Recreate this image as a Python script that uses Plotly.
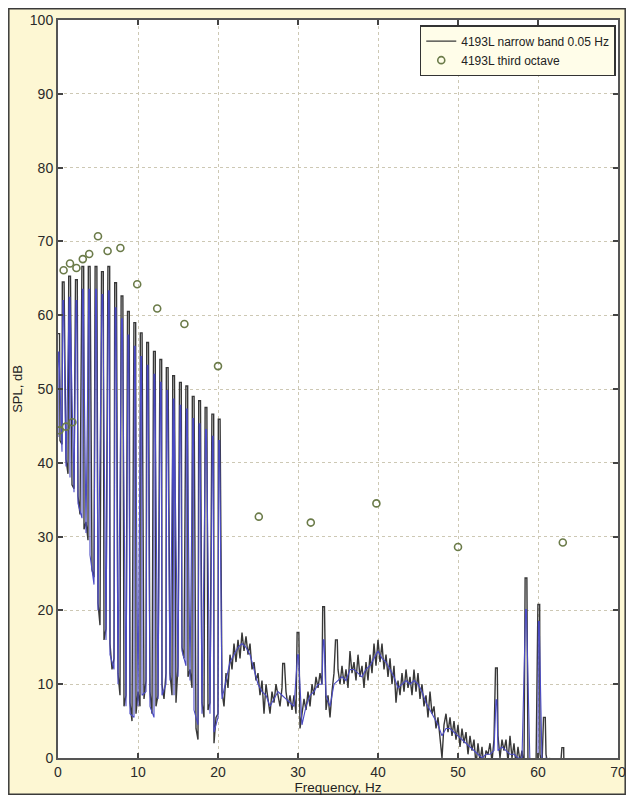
import numpy as np
import plotly.graph_objects as go

# ---------------- data ----------------
# narrow band (black) broadband floor, 0.25 Hz grid from 0 to 64 Hz
nb_step = 0.25
nb_floor = [
    44.5, 43.0, 42.5, 41.0,   40.5, 38.5, 38.0, 37.0,   36.5, 35.0, 35.5, 33.0,
    33.5, 31.0, 32.0, 29.5,   28.5, 25.5, 24.5, 21.5,   21.0, 18.0, 19.5, 16.0,
    17.5, 14.0, 15.5, 12.0,   13.5, 10.5, 11.5, 8.5,    10.0, 7.0, 8.5, 5.5,
    7.5, 5.0, 6.5, 6.0,       9.0, 7.0, 10.5, 8.0,      10.5, 8.0, 9.0, 6.0,
    3.5, 7.0, 8.5, 7.0,       10.0, 8.0, 11.5, 9.0,     11.5, 8.5, 10.0, 7.5,
    12.5, 11.0, 15.0, 13.5,   14.0, 11.0, 12.0, 9.5,    7.0, 4.0, 2.5, 6.0,
    7.5, 5.5, 9.0, 6.5,       7.5, 5.0, 2.0, 5.5,       6.0, 4.5, 9.0, 7.0,
    11.5, 9.5, 14.0, 12.0,    15.5, 13.0, 16.0, 13.5,   17.0, 14.5, 16.5, 14.0,
    15.5, 12.0, 13.0, 10.5,   11.5, 8.5, 10.5, 6.0,     10.0, 8.0, 6.0, 9.0,
    7.5, 10.0, 8.5, 7.0,      9.5, 7.5, 9.0, 7.0,       8.5, 6.5, 8.5, 6.0,
    7.0, 4.0, 6.0, 8.0,       6.5, 9.0, 7.0, 10.0,      8.5, 11.0, 9.5, 11.5,
    10.0, 8.0, 6.5, 8.5,      5.5, 9.0, 11.5, 9.5,      12.0, 10.0, 12.5, 10.0,
    12.0, 9.5, 14.5, 11.5,    13.0, 10.5, 14.0, 11.0,   12.5, 9.5, 13.0, 10.5,
    14.0, 11.5, 15.5, 12.5,   16.0, 13.0, 15.5, 12.0,   14.0, 11.0, 13.5, 10.0,
    12.5, 7.5, 10.5, 8.5,     11.5, 9.0, 12.0, 9.5,     11.0, 8.5, 12.0, 9.0,
    11.5, 8.0, 10.0, 7.0,     8.5, 5.5, 9.0, 6.0,       7.0, 4.0, 5.5, 3.0,
    0.0, 4.5, 6.0, 3.5,       5.5, 3.0, 5.0, 2.5,       4.5, 1.5, 4.0, 2.0,
    3.5, 0.5, 3.0, 1.0,       2.5, -1.0, 2.0, -0.5,     1.5, -1.5, 1.0, 0.5,
    2.0, -0.5, 2.5, 0.5,      3.0, 0.0, 2.5, 1.0,       2.5, -0.5, 3.0, 0.0,
    2.0, -1.0, 1.5, -0.5,     1.0, -1.5, 0.5, -1.0,     0.0, -2.0, -1.0, -1.5,
    -0.5, 0.5, -1.0, 1.0,     0.5, -1.0, 0.0, -2.0,     -1.0, -2.5, -1.5, -2.0,
    -1.5, -2.0, -1.5, -2.5,   -2.5,
]

# narrow band (black) tonal spikes
nb_spike_freq = [0.08, 0.65, 1.45, 2.3, 3.1, 3.9, 4.75, 5.55, 6.35, 7.2, 8.0, 8.8,
                 9.6, 10.4, 11.2, 12.05, 12.85, 13.65, 14.45, 15.3, 16.1, 16.9,
                 17.7, 18.5, 19.35, 20.15, 28.2, 30.0, 33.2, 34.8, 54.8, 58.5,
                 60.1, 60.8, 63.1]
nb_spike_level = [57.5, 64.5, 65.3, 64.8, 66.6, 66.6, 66.6, 65.9, 66.6, 64.4, 62.6, 60.5,
                  59.0, 57.6, 56.3, 55.1, 54.0, 52.9, 51.8, 50.9, 50.4, 49.0,
                  48.4, 47.5, 46.6, 45.9, 12.8, 17.0, 20.5, 16.0, 12.2, 24.4,
                  20.8, 5.5, 1.4]

# second (blue) narrow band trace, 0.5 Hz grid from 0 to 64 Hz
bl_step = 0.5
bl_floor = [
    43.5, 41.5, 39.5, 38.0, 36.0, 34.5, 32.5, 30.5, 27.5, 23.5,
    20.0, 18.0, 16.0, 14.0, 12.0, 10.0, 8.5, 7.0, 6.0, 5.5,
    7.0, 8.5, 9.0, 7.0, 5.5, 8.0, 8.5, 10.0, 10.5, 8.5,
    11.0, 14.5, 12.5, 10.5, 6.5, 4.5, 6.0, 7.5, 6.0, 3.5,
    5.5, 8.0, 10.5, 13.0, 14.0, 15.0, 15.5, 15.0, 14.0, 12.0,
    10.0, 9.0, 8.5, 7.0, 8.0, 9.0, 8.5, 8.0, 7.5, 7.0,
    6.0, 4.5, 7.0, 8.5, 9.0, 10.0, 10.0, 8.5, 7.0, 10.0,
    10.5, 11.0, 10.5, 12.0, 12.0, 11.5, 11.0, 12.0, 12.5, 13.5,
    14.5, 13.5, 13.0, 12.0, 11.0, 9.5, 10.0, 10.5, 10.0, 10.5,
    10.0, 9.0, 7.5, 6.5, 5.5, 4.5, 3.0, 4.0, 4.0, 3.5,
    3.0, 2.5, 2.0, 1.5, 1.0, 0.5, 0.0, 0.5, 0.5, 1.0,
    1.0, 1.5, 1.0, 0.5, 0.5, 0.0, 0.0, -0.5, -1.0, -1.5,
    -1.5, -0.5, 0.0, -0.5, -1.5, -2.0, -1.5, -2.0, -2.5,
]
bl_spike_freq = [0.08, 0.65, 1.45, 2.3, 3.1, 3.9, 4.75, 5.55, 6.35, 7.2, 8.0, 8.8,
                 9.6, 10.4, 11.2, 12.05, 12.85, 13.65, 14.45, 15.3, 16.1, 16.9,
                 17.7, 18.5, 19.35, 20.15, 30.0, 33.2, 54.8, 58.5, 60.1]
bl_spike_level = [55.0, 62.0, 62.5, 62.0, 63.5, 63.5, 63.5, 62.8, 63.3, 61.0, 59.5, 57.3,
                  55.8, 54.4, 53.2, 52.0, 50.9, 49.8, 48.7, 47.8, 47.3, 46.0,
                  45.3, 44.5, 43.6, 43.0, 14.0, 16.0, 7.9, 20.1, 18.5]

# third-octave levels
to_freq = [0.2, 0.7, 1.0, 1.5, 1.8, 2.3, 3.1, 3.9, 5.0, 6.2, 7.8, 9.9,
           12.4, 15.8, 20.0, 25.1, 31.6, 39.8, 50.0, 63.1]
to_level = [44.4, 66.1, 44.9, 67.0, 45.5, 66.4, 67.6, 68.3, 70.7, 68.7, 69.1, 64.2,
            60.9, 58.8, 53.1, 32.7, 31.9, 34.5, 28.6, 29.2]

x_ticks = [0, 10, 20, 30, 40, 50, 60, 70]
y_ticks = [0, 10, 20, 30, 40, 50, 60, 70, 80, 90, 100]


def build_trace(step, floor, spk_f, spk_v, half):
    grid = np.arange(len(floor)) * step
    fl = np.array(floor, dtype=float)
    keep = np.ones(len(grid), dtype=bool)
    for f in spk_f:
        keep &= np.abs(grid - f) > half
    xs = list(grid[keep])
    ys = list(fl[keep])
    for f, v in zip(spk_f, spk_v):
        xs += [f - half, f + half]
        ys += [v, v]
    order = np.argsort(np.array(xs), kind="stable")
    return np.array(xs)[order], np.array(ys)[order]


nb_x, nb_y = build_trace(nb_step, nb_floor, nb_spike_freq, nb_spike_level, 0.11)
bl_x, bl_y = build_trace(bl_step, bl_floor, bl_spike_freq, bl_spike_level, 0.05)

FONT = "Liberation Sans, Arial, sans-serif"

fig = go.Figure()
fig.add_trace(go.Scatter(
    x=nb_x, y=nb_y, mode="lines", name="4193L narrow band 0.05 Hz",
    line=dict(color="#383838", width=1.4),
))
fig.add_trace(go.Scatter(
    x=bl_x, y=bl_y, mode="lines", name="blue", showlegend=False,
    line=dict(color="#4a4ac4", width=1.1),
))
fig.add_trace(go.Scatter(
    x=to_freq, y=to_level, mode="markers", name="4193L third octave",
    marker=dict(symbol="circle-open", size=7, color="#6b7b49",
                line=dict(width=1.6, color="#6b7b49")),
))

# the page body adds 8 px on every side; figure sized so the page fits the window
W, H = 618, 787
L, R, T, B = 50, 8, 12, 37
pw, ph = W - L - R, H - T - B


def px_x(p):
    return (p - L) / pw


def px_y(p):
    return (H - B - p) / ph


# decorative outer frame
fig.add_shape(type="rect", xref="paper", yref="paper",
              x0=px_x(0.8), x1=px_x(W - 0.8), y0=px_y(H - 0.8), y1=px_y(0.8),
              line=dict(color="#3a3a3a", width=1.5), layer="below")

axis_common = dict(
    automargin=False,
    showline=True, linecolor="#555555", linewidth=2, mirror="ticks",
    ticks="inside", ticklen=5, tickwidth=1.5, tickcolor="#444444",
    showgrid=True, gridcolor="#cdc8b4", gridwidth=1, griddash="dot",
    zeroline=False,
    tickfont=dict(family=FONT, size=14, color="#2a2a2a"),
)

fig.update_layout(
    width=W, height=H,
    margin=dict(l=L, r=R, t=T, b=B, pad=0, autoexpand=False),
    paper_bgcolor="#fdf7d3",
    plot_bgcolor="white",
    font=dict(family=FONT, color="#222222"),
    xaxis=dict(range=[0, 70], tickvals=x_ticks,
               title=dict(text="Frequency, Hz", font=dict(size=13.5), standoff=3),
               **axis_common),
    yaxis=dict(range=[0, 100], tickvals=y_ticks,
               title=dict(text="SPL, dB", font=dict(size=13), standoff=4),
               **axis_common),
    legend=dict(x=0.996, y=0.993, xanchor="right", yanchor="top",
                bgcolor="#fffde9", bordercolor="#333333", borderwidth=1.5,
                font=dict(family=FONT, size=12, color="#222222"),
                tracegroupgap=0),
    showlegend=True,
)

fig.write_html("out.html")
